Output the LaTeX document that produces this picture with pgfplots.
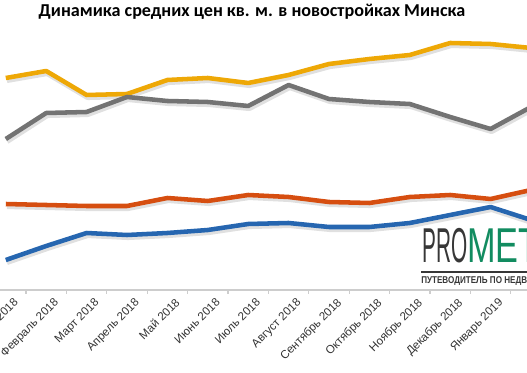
\documentclass[border=0pt]{standalone}
\usepackage{pgfplots}
\pgfplotsset{compat=1.18}
\usepackage{fontspec}
\setmainfont{Liberation Sans}
\newfontfamily\titlefont{Carlito}
\definecolor{cyel}{RGB}{238,168,6}
\definecolor{cgray}{RGB}{115,115,115}
\definecolor{corg}{RGB}{214,78,16}
\definecolor{cblue}{RGB}{38,102,176}
\definecolor{caxis}{RGB}{205,205,205}
\definecolor{clogog}{RGB}{18,140,96}
\definecolor{clogod}{RGB}{55,55,55}
\begin{document}
\begin{tikzpicture}[x=0.75pt,y=0.75pt]
\path[use as bounding box, clip] (0,0) rectangle (527,373);
\begin{axis}[
  at={(0pt,62.25pt)}, anchor=south west,
  scale only axis, width=395.25pt, height=217.5pt,
  xmin=-0.1436, xmax=12.901, ymin=83, ymax=373,
  axis x line*=bottom, axis y line=none,
  x axis line style={draw=caxis, line width=0.9pt},
  xtick={0,...,13},
  xticklabels={Январь 2018,Февраль 2018,Март 2018,Апрель 2018,Май 2018,Июнь 2018,Июль 2018,Август 2018,Сентябрь 2018,Октябрь 2018,Ноябрь 2018,Декабрь 2018,Январь 2019,Февраль 2019},
  major tick length=0pt,
  minor xtick={-0.5,0.5,...,13.5},
  minor tick length=3pt,
  xtick align=outside,
  minor tick style={draw=caxis, line width=0.9pt},
  xticklabel style={font=\fontsize{8.7}{10}\selectfont, text=black!80, inner sep=0pt, anchor=north east, rotate=45, xshift=0pt, yshift=-7.5pt},
  clip=true,
]
\addplot[black, opacity=0.12, line width=4.6pt, line join=round, transform canvas={xshift=0.8pt, yshift=-1.5pt}] coordinates {(0,295)(1,302)(2,278)(3,279)(4,293)(5,295)(6,290)(7,298)(8,309)(9,314)(10,318)(11,330)(12,329)(13,325)};
\addplot[black, opacity=0.12, line width=4.6pt, line join=round, transform canvas={xshift=0.8pt, yshift=-1.5pt}] coordinates {(0,234)(1,260)(2,261)(3,276)(4,272)(5,271)(6,267)(7,288)(8,274)(9,271)(10,269)(11,256)(12,244)(13,266)};
\addplot[black, opacity=0.12, line width=4.6pt, line join=round, transform canvas={xshift=0.8pt, yshift=-1.5pt}] coordinates {(0,169)(1,168)(2,167)(3,167)(4,175)(5,172)(6,178)(7,176)(8,171)(9,170)(10,176)(11,178)(12,174)(13,183)};
\addplot[black, opacity=0.12, line width=4.6pt, line join=round, transform canvas={xshift=0.8pt, yshift=-1.5pt}] coordinates {(0,113)(1,127)(2,140)(3,138)(4,140)(5,143)(6,149)(7,150)(8,146)(9,146)(10,150)(11,158)(12,166)(13,153)};
\addplot[cyel, line width=3.4pt, line join=round] coordinates {(0,295)(1,302)(2,278)(3,279)(4,293)(5,295)(6,290)(7,298)(8,309)(9,314)(10,318)(11,330)(12,329)(13,325)};
\addplot[cgray, line width=3.4pt, line join=round] coordinates {(0,234)(1,260)(2,261)(3,276)(4,272)(5,271)(6,267)(7,288)(8,274)(9,271)(10,269)(11,256)(12,244)(13,266)};
\addplot[corg, line width=3.4pt, line join=round] coordinates {(0,169)(1,168)(2,167)(3,167)(4,175)(5,172)(6,178)(7,176)(8,171)(9,170)(10,176)(11,178)(12,174)(13,183)};
\addplot[cblue, line width=3.4pt, line join=round] coordinates {(0,113)(1,127)(2,140)(3,138)(4,140)(5,143)(6,149)(7,150)(8,146)(9,146)(10,150)(11,158)(12,166)(13,153)};
\end{axis}
\node[anchor=base, inner sep=0pt, font=\titlefont\bfseries\fontsize{13.6}{16}\selectfont] at (252,356) {Динамика средних цен кв. м. в новостройках Минска};
\node[anchor=base west, inner sep=0pt, text=clogod, font=\fontsize{36.7}{40}\selectfont] at (422,110) {\scalebox{0.425}[1]{PRO}};
\node[anchor=base west, inner sep=0pt, text=clogog, font=\fontsize{36.7}{40}\selectfont] at (467,110) {\scalebox{0.7}[1]{METR}};
\draw[clogod, line width=1.1pt] (421,101) -- (527,101);
\node[anchor=base west, inner sep=0pt, text=clogod, font=\bfseries\fontsize{7.4}{8}\selectfont] at (421,89.5) {\scalebox{0.82}[1]{ПУТЕВОДИТЕЛЬ ПО НЕДВИЖИМОСТИ}};
\end{tikzpicture}
\end{document}
